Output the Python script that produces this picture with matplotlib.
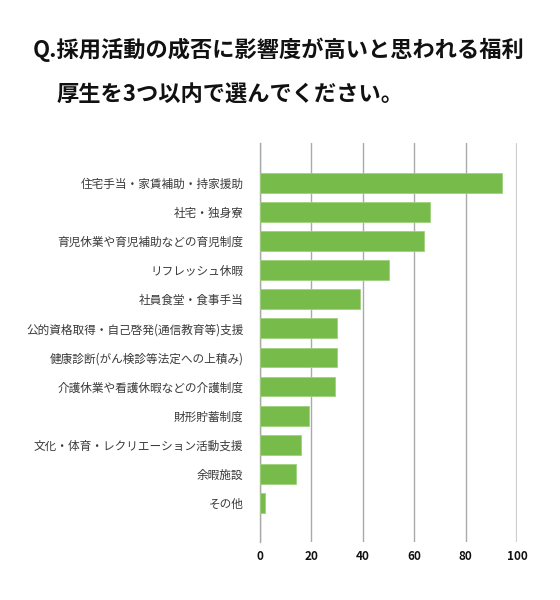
import matplotlib
matplotlib.use("Agg")
import matplotlib.pyplot as plt

plt.rcParams['font.family'] = ['Noto Sans CJK JP', 'DejaVu Sans']

categories = [
    "住宅手当・家賃補助・持家援助",
    "社宅・独身寮",
    "育児休業や育児補助などの育児制度",
    "リフレッシュ休暇",
    "社員食堂・食事手当",
    "公的資格取得・自己啓発(通信教育等)支援",
    "健康診断(がん検診等法定への上積み)",
    "介護休業や看護休暇などの介護制度",
    "財形貯蓄制度",
    "文化・体育・レクリエーション活動支援",
    "余暇施設",
    "その他",
]
values = [94, 66, 64, 50, 39, 30, 30, 29, 19, 16, 14, 2]
xticks = [0, 20, 40, 60, 80, 100]

fig = plt.figure(figsize=(5.6, 6.0), dpi=100)
ax = fig.add_axes([260/560, 1-542/600, (517-260)/560, (542-143)/600])

pos = list(range(len(categories)))
ax.barh(pos, values, height=0.68, color='#77bc4a', edgecolor='#9fd27c', linewidth=0.6, zorder=3)
ax.set_xlim(0, 100)
ax.set_ylim(len(categories) - 1 + 1.34, -1.37)
ax.set_yticks(pos)
ax.set_yticklabels(categories, fontsize=8.4, color='#3a3a3a')
ax.set_xticks(xticks)
ax.set_xticklabels([str(t) for t in xticks], fontsize=8.5, fontweight='bold', color='#111111')
ax.tick_params(axis='y', length=0, pad=12)
ax.tick_params(axis='x', length=0, pad=6)
ax.grid(axis='x', color='#aaaaaa', linewidth=1.0, zorder=0)
gl = ax.get_xgridlines()
gl[-1].set_color('#cfcfcf')
gl[-1].set_linewidth(1.6)
for s in ['top', 'right', 'bottom']:
    ax.spines[s].set_visible(False)
ax.spines['left'].set_color('#aaaaaa')
ax.spines['left'].set_linewidth(1.0)

fig.text(33/560, 1-50/600, "Q.採用活動の成否に影響度が高いと思われる福利",
         fontsize=16, fontweight='bold', color='#111111', ha='left', va='center')
fig.text(57/560, 1-94/600, "厚生を3つ以内で選んでください。",
         fontsize=16, fontweight='bold', color='#111111', ha='left', va='center')

fig.savefig("out.png", dpi=100, facecolor='white')
